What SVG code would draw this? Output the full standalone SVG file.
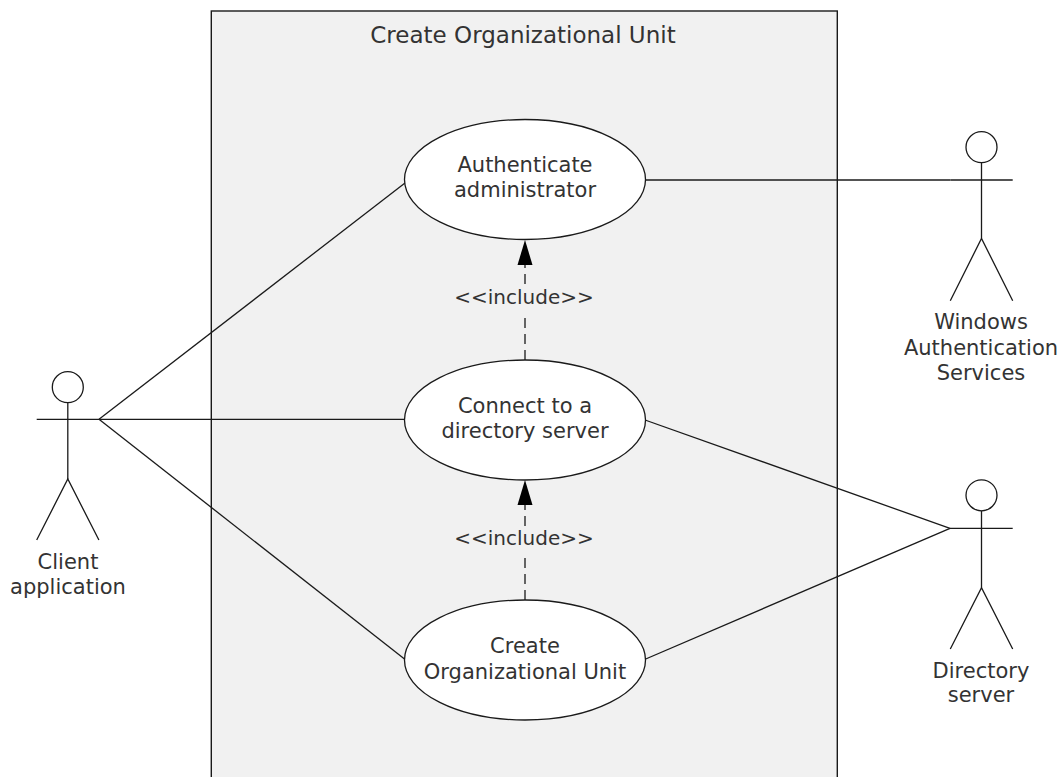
<svg xmlns="http://www.w3.org/2000/svg" width="1060" height="777" viewBox="0 0 1060 777">
<style>
.ln{stroke:#1a1a1a;stroke-width:1.3;fill:none}
.uc{fill:#ffffff;stroke:#1a1a1a;stroke-width:1.3}
.t{font-family:"DejaVu Sans","Liberation Sans",sans-serif;font-size:21px;fill:#333333;text-anchor:middle}
.dash{stroke:#1a1a1a;stroke-width:1.3;fill:none;stroke-dasharray:10 6}
.head{fill:#000000}
</style>
<rect width="1060" height="777" fill="#ffffff"/>
<g id="system">
<rect x="211.3" y="11" width="626" height="790" fill="#f1f1f1" stroke="#1a1a1a" stroke-width="1.4"/>
<text class="t" x="523" y="43" style="font-size:23px">Create Organizational Unit</text>
</g>
<g id="connectors">
<line class="ln" x1="99" y1="419.3" x2="405" y2="183"/>
<line class="ln" x1="99" y1="419.3" x2="404.5" y2="419.3"/>
<line class="ln" x1="99" y1="419.3" x2="404.5" y2="659"/>
<line class="ln" x1="645.5" y1="180" x2="950.5" y2="180"/>
<line class="ln" x1="645" y1="420" x2="950" y2="528.3"/>
<line class="ln" x1="645.7" y1="659" x2="950" y2="528.3"/>
<path class="dash" d="M525,360 V312 M525,284 V265"/>
<polygon class="head" points="525,240 517.5,265 532.5,265"/>
<text class="t" x="524" y="304" style="font-size:20px">&lt;&lt;include&gt;&gt;</text>
<path class="dash" d="M525,600 V555 M525,526 V505"/>
<polygon class="head" points="525,480 517.5,505 532.5,505"/>
<text class="t" x="524" y="545" style="font-size:20px">&lt;&lt;include&gt;&gt;</text>
</g>
<g id="uc-auth">
<ellipse class="uc" cx="525" cy="179.5" rx="120.5" ry="60"/>
<text class="t" x="525" y="172">Authenticate</text>
<text class="t" x="525" y="197">administrator</text>
</g>
<g id="uc-connect">
<ellipse class="uc" cx="525" cy="420" rx="120.5" ry="60"/>
<text class="t" x="525" y="413">Connect to a</text>
<text class="t" x="525" y="438">directory server</text>
</g>
<g id="uc-create">
<ellipse class="uc" cx="525" cy="660" rx="120.5" ry="60"/>
<text class="t" x="525" y="653">Create</text>
<text class="t" x="525" y="679">Organizational Unit</text>
</g>
<g id="actor-client">
<circle class="ln" cx="67.8" cy="387.2" r="15.5"/>
<line class="ln" x1="36.7" y1="419.3" x2="99" y2="419.3"/>
<line class="ln" x1="67.8" y1="402.7" x2="67.8" y2="479"/>
<polyline class="ln" points="36.7,540 67.8,479 98.9,540"/>
<text class="t" x="68" y="569">Client</text>
<text class="t" x="68" y="594">application</text>
</g>
<g id="actor-windows">
<circle class="ln" cx="981.5" cy="147.2" r="15.5"/>
<line class="ln" x1="950.5" y1="180" x2="1012.7" y2="180"/>
<line class="ln" x1="981.5" y1="162.7" x2="981.5" y2="238.5"/>
<polyline class="ln" points="950.3,300.7 981.5,238.5 1012.7,300.7"/>
<text class="t" x="981" y="329">Windows</text>
<text class="t" x="981" y="355">Authentication</text>
<text class="t" x="981" y="380">Services</text>
</g>
<g id="actor-directory">
<circle class="ln" cx="981.5" cy="495.3" r="15.5"/>
<line class="ln" x1="950" y1="528.3" x2="1012.7" y2="528.3"/>
<line class="ln" x1="981.5" y1="510.8" x2="981.5" y2="587.7"/>
<polyline class="ln" points="950.3,649 981.5,587.7 1012.7,649"/>
<text class="t" x="981" y="678">Directory</text>
<text class="t" x="981" y="702">server</text>
</g>
</svg>
